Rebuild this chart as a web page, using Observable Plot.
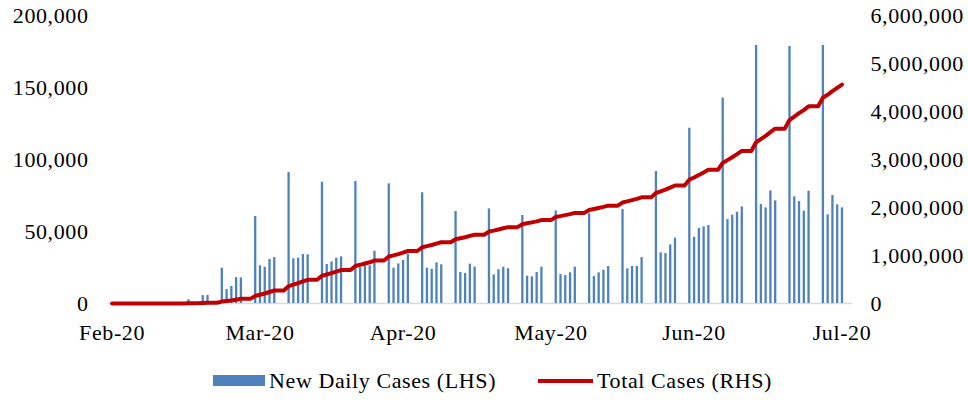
<!DOCTYPE html>
<html>
<head>
<meta charset="utf-8">
<script src="https://cdn.jsdelivr.net/npm/d3@7"></script>
<script src="https://cdn.jsdelivr.net/npm/@observablehq/plot@0.6"></script>
<style>
  body { margin: 0; background: #fff; }
  #chart { width: 968px; }
  #chart svg { display: block; }
  .legend { width: 968px; box-sizing: border-box; display: flex; justify-content: center; align-items: center;
            padding-left: 17px; margin-top: 18px; font: 22px "Liberation Serif", "Times New Roman", serif;
            letter-spacing: 0.6px; color: #000; line-height: 25px; }
  .item { display: flex; align-items: center; }
  .item + .item { margin-left: 42px; }
  .sw-bar { width: 52px; height: 11px; background: #4f81bd; margin-right: 4px; }
  .sw-line { width: 55px; height: 4px; background: #c00000; margin-right: 4px; }
</style>
</head>
<body>
<div id="chart"></div>
<div class="legend">
  <div class="item"><div class="sw-bar"></div><span>New Daily Cases (LHS)</span></div>
  <div class="item"><div class="sw-line"></div><span>Total Cases (RHS)</span></div>
</div>
<script>
// Daily values, one per calendar day, starting 2020-02-01 (weekends carry no new cases)
const firstDay = "2020-02-01";

const newCasesFeb = [0, 0,
  0, 0, 0, 0, 0, 0, 0,
  0, 0, 0, 0, 0, 0, 0,
  2600, 0, 0, 5500, 5500, 0, 0,
  24500, 9700, 11800, 18000, 17800, 0];
const newCasesMar = [0,
  60400, 26200, 25200, 30600, 31900, 0, 0,
  91000, 31000, 31500, 34000, 33800, 0, 0,
  84200, 27100, 28900, 31500, 32400, 0, 0,
  84700, 24800, 26200, 26200, 36300, 0, 0,
  83100, 24500];
const newCasesApr = [27500, 29900, 34000, 0, 0,
  76900, 24500, 23800, 28200, 26900, 0, 0,
  63900, 21500, 20800, 27300, 25200, 0, 0,
  65700, 19900, 23400, 25200, 24100, 0, 0,
  61100, 19000, 18500, 21500];
const newCasesMay = [25200, 0, 0,
  64300, 20100, 19400, 21300, 25200, 0, 0,
  62300, 18700, 21300, 23100, 25700, 0, 0,
  65300, 24100, 25700, 25700, 31900, 0, 0,
  91700, 35200, 34700, 40700, 45400, 0, 0];
const newCasesJun = [121700, 46000, 52100, 53200, 54200, 0, 0,
  142600, 58300, 61300, 63400, 67100, 0, 0,
  179200, 68700, 66400, 78200, 71300, 0, 0,
  178500, 74100, 70800, 64100, 78000, 0, 0,
  179200, 61600];
const newCasesJul = [75000, 68500, 66400];

const totalFeb = [0, 0,
  0, 0, 0, 1000, 1000, 1000, 1000,
  1000, 1000, 1000, 1000, 1000, 1000, 1000,
  4000, 4000, 4000, 10000, 15000, 15000, 15000,
  40000, 50000, 62000, 80000, 97000, 97000];
const totalMar = [97000,
  157000, 183000, 209000, 240000, 271000, 271000, 271000,
  362000, 393000, 425000, 459000, 493000, 493000, 493000,
  577000, 604000, 633000, 664000, 697000, 697000, 697000,
  782000, 806000, 833000, 859000, 895000, 895000, 895000,
  978000, 1003000];
const totalApr = [1030000, 1060000, 1094000, 1094000, 1094000,
  1171000, 1196000, 1219000, 1248000, 1275000, 1275000, 1275000,
  1338000, 1360000, 1381000, 1408000, 1433000, 1433000, 1433000,
  1499000, 1519000, 1542000, 1567000, 1591000, 1591000, 1591000,
  1652000, 1671000, 1690000, 1711000];
const totalMay = [1737000, 1737000, 1737000,
  1801000, 1821000, 1841000, 1862000, 1887000, 1887000, 1887000,
  1949000, 1968000, 1989000, 2012000, 2038000, 2038000, 2038000,
  2103000, 2128000, 2153000, 2179000, 2211000, 2211000, 2211000,
  2302000, 2338000, 2372000, 2413000, 2458000, 2458000, 2458000];
const totalJun = [2580000, 2626000, 2678000, 2731000, 2786000, 2786000, 2786000,
  2928000, 2987000, 3048000, 3111000, 3178000, 3178000, 3178000,
  3358000, 3426000, 3493000, 3571000, 3642000, 3642000, 3642000,
  3821000, 3895000, 3966000, 4030000, 4108000, 4108000, 4108000,
  4287000, 4349000];
const totalJul = [4424000, 4492000, 4559000];

const xTickDates = ["2020-02-01", "2020-03-03", "2020-04-02", "2020-05-03", "2020-06-02", "2020-07-03"];
const xTickLabels = ["Feb-20", "Mar-20", "Apr-20", "May-20", "Jun-20", "Jul-20"];
const leftTicks = [0, 50000, 100000, 150000, 200000];
const rightTicks = [0, 1000000, 2000000, 3000000, 4000000, 5000000, 6000000];

// ---- build table ----
const ratio = 6000000 / 200000;
const newCases = [...newCasesFeb, ...newCasesMar, ...newCasesApr, ...newCasesMay, ...newCasesJun, ...newCasesJul];
const totalCases = [...totalFeb, ...totalMar, ...totalApr, ...totalMay, ...totalJun, ...totalJul];
const start = new Date(firstDay + "T00:00:00Z");
const daily = newCases.map((c, i) => ({
  date: d3.utcDay.offset(start, i),
  cases: c,
  total: totalCases[i]
}));
const tickDates = xTickDates.map(s => new Date(s + "T00:00:00Z"));
const fmt = d3.format(",");

const chart = Plot.plot({
  width: 968,
  height: 350,
  marginLeft: 108,
  marginRight: 116,
  marginTop: 15,
  marginBottom: 47,
  style: { fontFamily: "'Liberation Serif', 'Times New Roman', serif", fontSize: "22px", color: "#000", background: "#fff", letterSpacing: "0.6px" },
  x: { type: "utc", domain: [new Date("2020-01-31T06:00:00Z"), new Date("2020-07-05T05:00:00Z")] },
  y: { domain: [0, 200000] },
  marks: [
    Plot.ruleY([0], { stroke: "#d9d9d9", strokeWidth: 1.5 }),
    Plot.ruleX(daily.filter(d => d.cases > 0), { x: "date", y1: 0, y2: "cases", stroke: "#4f81bd", strokeWidth: 2.3 }),
    Plot.line(daily, { x: "date", y: d => d.total / ratio, stroke: "#c00000", strokeWidth: 4 }),
    Plot.axisX({
      ticks: tickDates,
      tickFormat: d => xTickLabels[tickDates.findIndex(t => +t === +d)],
      tickSize: 0, tickPadding: 21, label: null
    }),
    Plot.axisY({ anchor: "left", ticks: leftTicks, tickFormat: fmt, tickSize: 0, tickPadding: 20, label: null }),
    Plot.axisY({
      anchor: "right", ticks: rightTicks.map(v => v / ratio),
      tickFormat: v => fmt(Math.round(v * ratio)), tickSize: 0, tickPadding: 18, label: null
    })
  ]
});
document.getElementById("chart").append(chart);
</script>
</body>
</html>
